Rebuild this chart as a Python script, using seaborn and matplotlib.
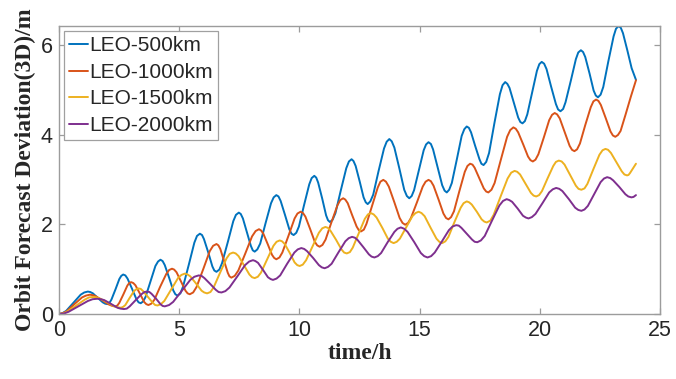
import matplotlib
matplotlib.use("Agg")
import matplotlib.pyplot as plt
import seaborn as sns
import pandas as pd

# ---- data ----
series_names = ["LEO-500km", "LEO-1000km", "LEO-1500km", "LEO-2000km"]
colors = ["#0072BD", "#D95319", "#EDB120", "#7E2F8E"]

t_500 = [0, 0.15, 0.3, 0.6, 0.9, 1.05,
         1.2, 1.30, 1.41, 1.61, 1.82, 1.92,
         2.02, 2.10, 2.18, 2.35, 2.51, 2.59,
         2.67, 2.76, 2.85, 3.04, 3.22, 3.31,
         3.4, 3.50, 3.6, 3.81, 4.01, 4.12,
         4.22, 4.31, 4.40, 4.58, 4.75, 4.84,
         4.93, 5.05, 5.16, 5.40, 5.63, 5.74,
         5.86, 5.95, 6.03, 6.21, 6.38, 6.46,
         6.55, 6.67, 6.78, 7.02, 7.25, 7.36,
         7.48, 7.56, 7.65, 7.81, 7.98, 8.06,
         8.14, 8.25, 8.37, 8.59, 8.82, 8.93,
         9.04, 9.13, 9.22, 9.40, 9.58, 9.67,
         9.76, 9.87, 9.98, 10.19, 10.41, 10.51,
         10.62, 10.70, 10.78, 10.95, 11.11, 11.19,
         11.27, 11.38, 11.50, 11.72, 11.95, 12.06,
         12.17, 12.25, 12.34, 12.51, 12.67, 12.76,
         12.84, 12.95, 13.07, 13.29, 13.52, 13.63,
         13.74, 13.84, 13.95, 14.16, 14.36, 14.47,
         14.57, 14.67, 14.77, 14.97, 15.17, 15.27,
         15.37, 15.47, 15.56, 15.75, 15.94, 16.04,
         16.13, 16.23, 16.34, 16.55, 16.75, 16.86,
         16.96, 17.05, 17.14, 17.31, 17.49, 17.57,
         17.66, 17.77, 17.89, 18.11, 18.34, 18.45,
         18.56, 18.65, 18.74, 18.92, 19.10, 19.19,
         19.28, 19.38, 19.48, 19.68, 19.88, 19.98,
         20.08, 20.18, 20.28, 20.47, 20.67, 20.76,
         20.86, 20.97, 21.07, 21.29, 21.50, 21.60,
         21.71, 21.80, 21.89, 22.07, 22.24, 22.33,
         22.42, 22.53, 22.64, 22.85, 23.07, 23.17,
         23.28, 23.37, 23.46, 23.64, 23.82, 24.0]
y_500 = [0, 0.02, 0.07, 0.25, 0.43, 0.48,
         0.50, 0.49, 0.46, 0.36, 0.26, 0.23,
         0.22, 0.25, 0.32, 0.55, 0.78, 0.85,
         0.88, 0.86, 0.79, 0.56, 0.33, 0.26,
         0.24, 0.28, 0.38, 0.73, 1.07, 1.17,
         1.21, 1.18, 1.09, 0.81, 0.53, 0.44,
         0.41, 0.46, 0.61, 1.10, 1.59, 1.74,
         1.79, 1.76, 1.67, 1.37, 1.06, 0.97,
         0.94, 0.99, 1.13, 1.60, 2.07, 2.21,
         2.26, 2.23, 2.13, 1.83, 1.52, 1.42,
         1.39, 1.44, 1.57, 2.02, 2.47, 2.60,
         2.65, 2.62, 2.52, 2.21, 1.89, 1.79,
         1.76, 1.81, 1.95, 2.42, 2.89, 3.03,
         3.08, 3.04, 2.93, 2.57, 2.20, 2.09,
         2.05, 2.10, 2.25, 2.75, 3.25, 3.40,
         3.45, 3.41, 3.30, 2.95, 2.60, 2.49,
         2.45, 2.51, 2.66, 3.18, 3.69, 3.84,
         3.90, 3.85, 3.71, 3.24, 2.77, 2.63,
         2.58, 2.63, 2.76, 3.21, 3.65, 3.78,
         3.83, 3.79, 3.67, 3.27, 2.87, 2.75,
         2.71, 2.77, 2.92, 3.45, 3.97, 4.12,
         4.18, 4.15, 4.05, 3.75, 3.45, 3.35,
         3.32, 3.39, 3.59, 4.25, 4.90, 5.10,
         5.17, 5.13, 5.04, 4.71, 4.38, 4.28,
         4.25, 4.30, 4.45, 4.94, 5.42, 5.57,
         5.62, 5.58, 5.46, 5.07, 4.68, 4.56,
         4.52, 4.57, 4.72, 5.20, 5.68, 5.83,
         5.88, 5.84, 5.73, 5.36, 4.98, 4.87,
         4.83, 4.89, 5.06, 5.63, 6.19, 6.36,
         6.42, 6.38, 6.26, 5.88, 5.48, 5.22]

t_1000 = [0, 0.16, 0.32, 0.64, 0.96, 1.12,
          1.28, 1.41, 1.55, 1.82, 2.08, 2.22,
          2.35, 2.43, 2.51, 2.68, 2.84, 2.92,
          3.0, 3.09, 3.18, 3.36, 3.54, 3.63,
          3.72, 3.84, 3.97, 4.21, 4.46, 4.58,
          4.7, 4.79, 4.89, 5.07, 5.26, 5.35,
          5.44, 5.58, 5.72, 6.0, 6.27, 6.41,
          6.55, 6.63, 6.71, 6.86, 7.02, 7.09,
          7.17, 7.31, 7.46, 7.75, 8.03, 8.18,
          8.32, 8.41, 8.50, 8.68, 8.86, 8.95,
          9.04, 9.17, 9.29, 9.55, 9.80, 9.92,
          10.05, 10.15, 10.25, 10.45, 10.64, 10.74,
          10.84, 10.96, 11.09, 11.33, 11.58, 11.70,
          11.82, 11.91, 12.01, 12.19, 12.38, 12.47,
          12.56, 12.68, 12.79, 13.03, 13.26, 13.37,
          13.49, 13.60, 13.72, 13.95, 14.17, 14.29,
          14.40, 14.52, 14.64, 14.89, 15.13, 15.25,
          15.37, 15.47, 15.58, 15.79, 15.99, 16.10,
          16.20, 16.31, 16.43, 16.65, 16.88, 16.99,
          17.10, 17.20, 17.29, 17.48, 17.67, 17.77,
          17.86, 17.99, 18.12, 18.38, 18.64, 18.77,
          18.90, 19.00, 19.10, 19.31, 19.51, 19.61,
          19.71, 19.82, 19.94, 20.17, 20.39, 20.51,
          20.62, 20.72, 20.83, 21.03, 21.24, 21.34,
          21.44, 21.55, 21.67, 21.89, 22.12, 22.23,
          22.34, 22.44, 22.54, 22.74, 22.94, 23.04,
          23.14, 23.25, 23.36, 23.57, 23.79, 24.0]
y_1000 = [0, 0.02, 0.06, 0.22, 0.37, 0.41,
          0.43, 0.42, 0.39, 0.30, 0.21, 0.18,
          0.17, 0.19, 0.25, 0.44, 0.63, 0.69,
          0.71, 0.69, 0.64, 0.46, 0.27, 0.22,
          0.20, 0.23, 0.32, 0.61, 0.89, 0.98,
          1.01, 0.99, 0.93, 0.73, 0.52, 0.46,
          0.44, 0.48, 0.60, 1.00, 1.40, 1.52,
          1.56, 1.53, 1.45, 1.19, 0.92, 0.84,
          0.81, 0.85, 0.97, 1.35, 1.73, 1.85,
          1.89, 1.86, 1.79, 1.56, 1.32, 1.25,
          1.22, 1.26, 1.37, 1.75, 2.13, 2.24,
          2.28, 2.25, 2.17, 1.89, 1.61, 1.53,
          1.50, 1.54, 1.66, 2.04, 2.42, 2.54,
          2.58, 2.55, 2.47, 2.21, 1.95, 1.87,
          1.84, 1.88, 2.01, 2.42, 2.82, 2.95,
          2.99, 2.95, 2.84, 2.49, 2.14, 2.03,
          1.99, 2.03, 2.14, 2.49, 2.84, 2.95,
          2.99, 2.96, 2.86, 2.55, 2.24, 2.14,
          2.11, 2.16, 2.29, 2.73, 3.17, 3.30,
          3.35, 3.33, 3.26, 3.03, 2.80, 2.73,
          2.71, 2.77, 2.92, 3.44, 3.95, 4.10,
          4.16, 4.13, 4.05, 3.78, 3.51, 3.43,
          3.40, 3.44, 3.56, 3.94, 4.32, 4.44,
          4.48, 4.45, 4.36, 4.06, 3.75, 3.66,
          3.63, 3.67, 3.80, 4.21, 4.61, 4.74,
          4.78, 4.75, 4.66, 4.37, 4.07, 3.98,
          3.95, 3.99, 4.08, 4.45, 4.85, 5.21]

t_1500 = [0, 0.18, 0.36, 0.72, 1.07, 1.25,
          1.43, 1.57, 1.72, 2.01, 2.29, 2.44,
          2.58, 2.67, 2.76, 2.94, 3.12, 3.21,
          3.3, 3.4, 3.5, 3.7, 3.9, 4.0,
          4.1, 4.24, 4.38, 4.67, 4.95, 5.09,
          5.23, 5.35, 5.46, 5.70, 5.93, 6.04,
          6.16, 6.30, 6.43, 6.70, 6.97, 7.10,
          7.24, 7.35, 7.47, 7.69, 7.92, 8.03,
          8.14, 8.27, 8.40, 8.66, 8.92, 9.05,
          9.18, 9.28, 9.39, 9.60, 9.80, 9.91,
          10.01, 10.14, 10.28, 10.55, 10.81, 10.95,
          11.08, 11.19, 11.30, 11.53, 11.75, 11.86,
          11.97, 12.10, 12.22, 12.47, 12.72, 12.85,
          12.97, 13.09, 13.21, 13.45, 13.68, 13.80,
          13.92, 14.05, 14.18, 14.44, 14.70, 14.83,
          14.96, 15.08, 15.21, 15.45, 15.70, 15.82,
          15.94, 16.07, 16.20, 16.45, 16.71, 16.83,
          16.96, 17.06, 17.17, 17.38, 17.58, 17.69,
          17.79, 17.94, 18.08, 18.37, 18.66, 18.81,
          18.95, 19.06, 19.18, 19.40, 19.63, 19.74,
          19.85, 19.97, 20.09, 20.32, 20.56, 20.67,
          20.79, 20.91, 21.03, 21.26, 21.50, 21.61,
          21.73, 21.86, 21.98, 22.23, 22.48, 22.61,
          22.73, 22.84, 22.96, 23.18, 23.41, 23.52,
          23.63, 23.69, 23.75, 23.88, 24.0]
y_1500 = [0, 0.01, 0.06, 0.19, 0.32, 0.37,
          0.38, 0.37, 0.34, 0.26, 0.17, 0.15,
          0.14, 0.16, 0.20, 0.36, 0.51, 0.55,
          0.57, 0.56, 0.51, 0.38, 0.25, 0.20,
          0.19, 0.22, 0.29, 0.55, 0.80, 0.87,
          0.90, 0.88, 0.84, 0.68, 0.52, 0.48,
          0.46, 0.49, 0.59, 0.92, 1.24, 1.34,
          1.37, 1.35, 1.29, 1.09, 0.88, 0.82,
          0.80, 0.83, 0.92, 1.22, 1.52, 1.61,
          1.64, 1.62, 1.56, 1.36, 1.15, 1.09,
          1.07, 1.10, 1.20, 1.51, 1.81, 1.91,
          1.94, 1.92, 1.85, 1.65, 1.44, 1.37,
          1.35, 1.38, 1.48, 1.80, 2.12, 2.22,
          2.25, 2.22, 2.15, 1.92, 1.68, 1.61,
          1.58, 1.61, 1.68, 1.93, 2.18, 2.25,
          2.28, 2.25, 2.18, 1.93, 1.68, 1.61,
          1.58, 1.62, 1.72, 2.05, 2.37, 2.47,
          2.51, 2.49, 2.44, 2.28, 2.11, 2.06,
          2.04, 2.08, 2.21, 2.62, 3.02, 3.15,
          3.19, 3.17, 3.11, 2.91, 2.70, 2.64,
          2.62, 2.65, 2.74, 3.02, 3.30, 3.39,
          3.42, 3.40, 3.33, 3.10, 2.86, 2.79,
          2.77, 2.80, 2.90, 3.23, 3.55, 3.65,
          3.68, 3.66, 3.59, 3.39, 3.18, 3.11,
          3.09, 3.10, 3.14, 3.25, 3.35]

t_2000 = [0, 0.2, 0.4, 0.8, 1.2, 1.4,
          1.6, 1.74, 1.88, 2.15, 2.43, 2.56,
          2.7, 2.82, 2.94, 3.19, 3.43, 3.55,
          3.67, 3.76, 3.85, 4.04, 4.22, 4.31,
          4.4, 4.58, 4.75, 5.11, 5.46, 5.63,
          5.81, 5.93, 6.05, 6.29, 6.52, 6.64,
          6.76, 6.92, 7.09, 7.42, 7.74, 7.91,
          8.07, 8.17, 8.28, 8.49, 8.69, 8.80,
          8.9, 9.05, 9.20, 9.49, 9.79, 9.93,
          10.08, 10.20, 10.32, 10.57, 10.81, 10.93,
          11.05, 11.19, 11.34, 11.62, 11.91, 12.05,
          12.19, 12.31, 12.42, 12.66, 12.89, 13.00,
          13.12, 13.26, 13.40, 13.67, 13.95, 14.08,
          14.22, 14.36, 14.50, 14.78, 15.05, 15.19,
          15.33, 15.48, 15.63, 15.93, 16.22, 16.37,
          16.52, 16.63, 16.74, 16.96, 17.18, 17.29,
          17.40, 17.55, 17.71, 18.01, 18.32, 18.47,
          18.62, 18.73, 18.85, 19.08, 19.30, 19.42,
          19.53, 19.67, 19.82, 20.11, 20.39, 20.54,
          20.68, 20.81, 20.94, 21.21, 21.47, 21.60,
          21.73, 21.86, 22.0, 22.27, 22.53, 22.67,
          22.8, 22.93, 23.05, 23.31, 23.56, 23.68,
          23.81, 23.9, 24.0]
y_2000 = [0, 0.01, 0.05, 0.17, 0.29, 0.33,
          0.34, 0.33, 0.31, 0.23, 0.14, 0.12,
          0.11, 0.12, 0.17, 0.31, 0.44, 0.49,
          0.50, 0.49, 0.45, 0.34, 0.22, 0.18,
          0.17, 0.20, 0.27, 0.52, 0.76, 0.83,
          0.86, 0.85, 0.80, 0.67, 0.54, 0.49,
          0.48, 0.51, 0.59, 0.84, 1.09, 1.17,
          1.20, 1.18, 1.14, 0.98, 0.82, 0.78,
          0.76, 0.79, 0.86, 1.12, 1.37, 1.44,
          1.47, 1.45, 1.40, 1.25, 1.09, 1.04,
          1.02, 1.05, 1.12, 1.37, 1.62, 1.69,
          1.72, 1.70, 1.65, 1.49, 1.33, 1.28,
          1.26, 1.29, 1.36, 1.60, 1.83, 1.90,
          1.93, 1.90, 1.83, 1.60, 1.36, 1.29,
          1.26, 1.29, 1.37, 1.62, 1.87, 1.95,
          1.98, 1.97, 1.92, 1.79, 1.66, 1.61,
          1.60, 1.64, 1.74, 2.08, 2.42, 2.52,
          2.56, 2.54, 2.50, 2.35, 2.19, 2.15,
          2.13, 2.16, 2.23, 2.47, 2.71, 2.78,
          2.81, 2.79, 2.74, 2.56, 2.37, 2.32,
          2.30, 2.33, 2.41, 2.68, 2.94, 3.02,
          3.05, 3.03, 2.98, 2.83, 2.67, 2.62,
          2.60, 2.61, 2.65]

x_ticks = [0, 5, 10, 15, 20, 25]
y_ticks = [0, 2, 4, 6]
x_label = "time/h"
y_label = "Orbit Forecast Deviation(3D)/m"

frames = []
for name, t, y in zip(series_names, [t_500, t_1000, t_1500, t_2000], [y_500, y_1000, y_1500, y_2000]):
    frames.append(pd.DataFrame({"time": t, "dev": y, "series": name}))
df = pd.concat(frames, ignore_index=True)

sns.set_theme(style="white")
plt.rcParams["font.family"] = ["Liberation Sans", "DejaVu Sans"]

fig = plt.figure(figsize=(6.76, 3.79), dpi=100)
ax = fig.add_axes([59 / 676, 1 - 314 / 379, (660 - 59) / 676, (314 - 26) / 379])

sns.lineplot(data=df, x="time", y="dev", hue="series", hue_order=series_names,
             palette=colors, linewidth=1.4, ax=ax, estimator=None, sort=False)

ax.set_xlim(0, 25)
ax.set_ylim(0, 6.42)
ax.set_xticks(x_ticks)
ax.set_yticks(y_ticks)
ax.set_xticklabels([str(v) for v in x_ticks])
ax.set_yticklabels([str(v) for v in y_ticks])

spine_color = "#9c9c9c"
for s in ax.spines.values():
    s.set_visible(True)
    s.set_color(spine_color)
    s.set_linewidth(1.0)

ax.tick_params(axis="both", which="major", direction="in", length=4.5, width=0.9,
               color=spine_color, labelsize=15.5, labelcolor="#262626",
               top=True, right=True, bottom=True, left=True, pad=4.5)

ax.set_xlabel(x_label, fontsize=17, fontweight="bold",
              family=["Liberation Serif", "DejaVu Serif"], color="#262626", labelpad=1)
ax.set_ylabel(y_label, fontsize=17, fontweight="bold",
              family=["Liberation Serif", "DejaVu Serif"], color="#262626", labelpad=3)

leg = ax.legend(loc="upper left", fontsize=15, frameon=True, fancybox=False,
                edgecolor="#a0a0a0", framealpha=1, handlelength=0.9, handletextpad=0.04,
                labelspacing=0.36, borderpad=0.25, borderaxespad=0.25)
leg.get_frame().set_linewidth(0.9)
for line in leg.get_lines():
    line.set_linewidth(1.4)

fig.savefig("out.png", dpi=100)
